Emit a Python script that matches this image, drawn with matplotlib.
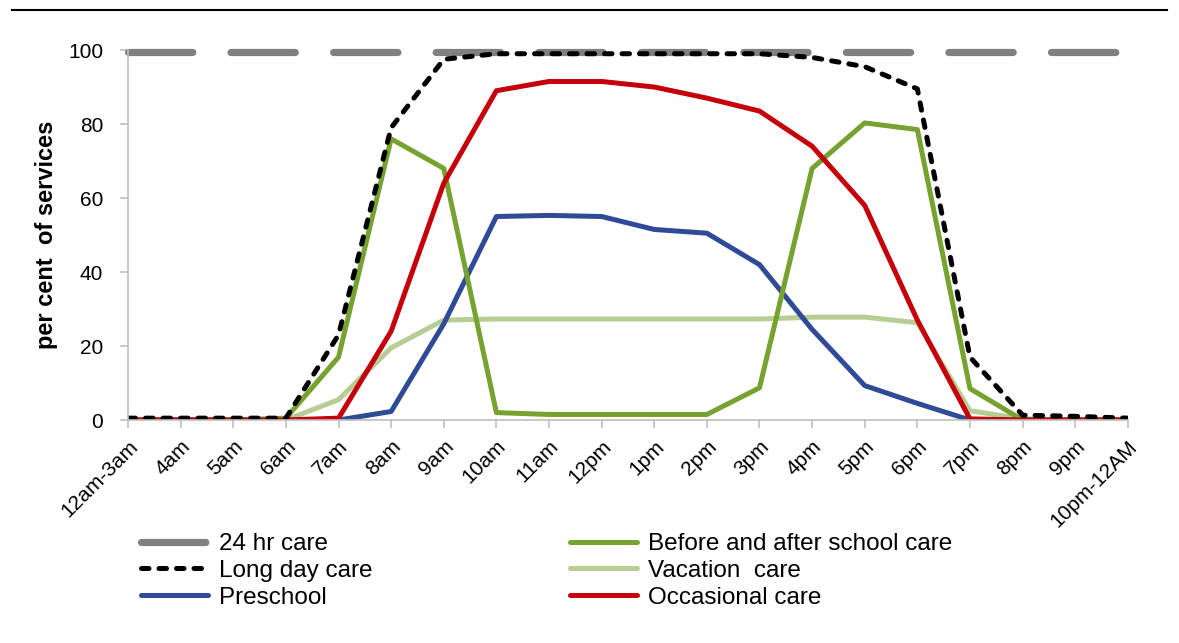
import matplotlib.pyplot as plt
from matplotlib.lines import Line2D

plt.rcParams['font.family'] = ['Liberation Sans', 'DejaVu Sans']

hours = ['12am-3am', '4am', '5am', '6am', '7am', '8am', '9am', '10am', '11am',
         '12pm', '1pm', '2pm', '3pm', '4pm', '5pm', '6pm', '7pm', '8pm', '9pm',
         '10pm-12AM']

care_24hr = [99.5] * 20
long_day = [0.5, 0.5, 0.5, 0.5, 23, 79, 97.5, 99, 99, 99, 99, 99, 99, 98, 95.5,
            89.5, 17, 1.3, 1, 0.5]
preschool = [0, 0, 0, 0, 0, 2.3, 26, 55, 55.3, 55, 51.5, 50.5, 42, 24.5, 9.3,
             4.5, 0, 0, 0, 0]
before_after = [0, 0, 0, 0.5, 17, 76, 68, 2, 1.5, 1.5, 1.5, 1.5, 8.7, 68, 80.3,
                78.5, 8.5, 0, 0, 0]
vacation = [0, 0, 0, 0, 5.5, 19.5, 27, 27.3, 27.3, 27.3, 27.3, 27.3, 27.3, 27.8,
            27.8, 26.3, 2.5, 0.3, 0, 0]
occasional = [0, 0, 0, 0, 0.5, 24, 64, 89, 91.5, 91.5, 90, 87, 83.5, 74, 58,
              27, 0.3, 0, 0, 0]

x = range(len(hours))

fig = plt.figure(figsize=(11.79, 6.43), dpi=100)
ax = fig.add_axes([0.1086, 0.3468, 0.848, 0.5754])

common = dict(solid_joinstyle='round', solid_capstyle='round')
lw = 3.6
l24, = ax.plot(x, care_24hr, color='#808080', lw=5.2, dashes=(8.9, 5.3),
               dash_capstyle='round', clip_on=False, label='24 hr care')
lvac, = ax.plot(x, vacation, color='#B7CD93', lw=lw, label='Vacation  care', **common)
lpre, = ax.plot(x, preschool, color='#2F4A96', lw=lw, label='Preschool', **common)
lbas, = ax.plot(x, before_after, color='#76A22F', lw=lw,
                label='Before and after school care', **common)
locc, = ax.plot(x, occasional, color='#C6000B', lw=lw, label='Occasional care', **common)
lld, = ax.plot(x, long_day, color='black', lw=lw, dashes=(1.5, 2.0),
               dash_capstyle='round', dash_joinstyle='round', label='Long day care')

ax.set_xlim(0, len(hours) - 1)
ax.set_ylim(0, 100)
ax.set_yticks(range(0, 101, 20))
ax.set_xticks(list(x))
ax.set_xticklabels(hours, rotation=45, ha='right', rotation_mode='anchor')
ax.tick_params(axis='both', labelsize=15, color='#BFBFBF', length=6, width=1.2)
ax.tick_params(axis='y', pad=12)
ax.tick_params(axis='x', pad=6)
for side in ['top', 'right']:
    ax.spines[side].set_visible(False)
for side in ['left', 'bottom']:
    ax.spines[side].set_color('#BFBFBF')
    ax.spines[side].set_linewidth(1.2)
ax.set_ylabel('per cent  of services', fontsize=17, fontweight='bold', labelpad=7)

fig.legend(handles=[l24, lld, lpre, lbas, lvac, locc], ncol=2, frameon=False,
           fontsize=17.5, handlelength=2.75, handletextpad=0.45, columnspacing=8.15,
           labelspacing=0.2, borderpad=0, borderaxespad=0,
           loc='upper left', bbox_to_anchor=(0.1196, 0.171))

# rule across the top of the figure
fig.add_artist(Line2D([0.01, 0.99], [0.984, 0.984], color='black', lw=1.5))

fig.savefig('out.png', dpi=100)
